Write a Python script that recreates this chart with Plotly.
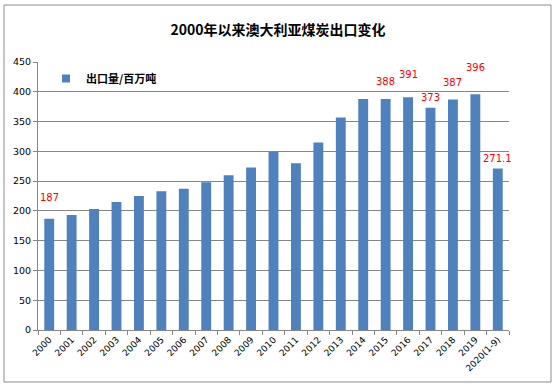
import plotly.graph_objects as go

years = ["2000", "2001", "2002", "2003", "2004", "2005", "2006", "2007", "2008", "2009",
         "2010", "2011", "2012", "2013", "2014", "2015", "2016", "2017", "2018", "2019", "2020(1-9)"]
exports = [187, 193, 203, 215, 225, 233, 237, 248, 260, 273,
           299, 280, 315, 357, 388, 388, 391, 373, 387, 396, 271.1]
labeled = ["2000", "2015", "2016", "2017", "2018", "2019", "2020(1-9)"]
label_shift = [21, 17, 23, 10, 17, 27, 10]
y_ticks = [0, 50, 100, 150, 200, 250, 300, 350, 400, 450]
series_name = "出口量/百万吨"
bar_color = "#4F81BD"

fig = go.Figure()
fig.add_trace(go.Bar(
    x=years, y=exports, name=series_name,
    marker=dict(color=bar_color, line=dict(width=0)),
    showlegend=False,
))
# legend entry with a small square symbol
fig.add_trace(go.Scatter(
    x=[None], y=[None], mode="markers", name=series_name,
    marker=dict(symbol="square", size=8, color=bar_color),
    showlegend=True, hoverinfo="skip",
))

for cat, sh in zip(labeled, label_shift):
    i = years.index(cat)
    v = exports[i]
    fig.add_annotation(
        x=i, y=v, text=f"{v:g}", showarrow=False, yshift=sh,
        font=dict(family="DejaVu Sans", size=10, color="#FF0000"),
    )

W, H = 556, 388
ml, mr, mt, mb = 38, 47, 62, 58
pw, ph = W - ml - mr, H - mt - mb

def px(x):
    return (x - ml) / pw

def py(y):
    return (H - mb - y) / ph

fig.add_shape(type="rect", xref="paper", yref="paper",
              x0=px(4), x1=px(551), y0=py(382), y1=py(5),
              line=dict(color="#8C8C8C", width=1), fillcolor="rgba(0,0,0,0)", layer="below")

fig.update_layout(
    width=W, height=H,
    margin=dict(l=ml, r=mr, t=mt, b=mb, autoexpand=False),
    paper_bgcolor="white", plot_bgcolor="white",
    title=dict(text="<b>2000年以来澳大利亚煤炭出口变化</b>", x=0.5, xref="container",
               y=1 - 30 / H, yref="container", yanchor="middle",
               font=dict(family="Noto Sans CJK SC", size=14, color="#000000")),
    bargap=0.56,
    legend=dict(x=px(46), y=py(64), xanchor="left", yanchor="top",
                font=dict(family="Noto Sans CJK SC", size=11, color="#000000", weight="bold"),
                bgcolor="rgba(0,0,0,0)", itemwidth=30, tracegroupgap=0),
    font=dict(family="DejaVu Sans", size=9, color="#000000"),
)
fig.update_xaxes(
    type="category", range=[-0.5, len(years) - 0.5], tickangle=-45, showgrid=False,
    showline=True, linecolor="#868686", linewidth=1, automargin=False,
    ticks="outside", ticklen=4, tickcolor="#868686", tickson="boundaries",
    tickfont=dict(family="DejaVu Sans", size=9, color="#000000"),
)
fig.update_yaxes(
    range=[0, 450], tickvals=y_ticks, showgrid=True, gridcolor="#868686", gridwidth=1,
    showline=True, linecolor="#868686", linewidth=1, automargin=False,
    ticks="outside", ticklen=4, tickcolor="#868686",
    tickfont=dict(family="DejaVu Sans", size=9.5, color="#000000"),
    zeroline=False,
)

fig.write_html("out.html", config={"displayModeBar": False},
               post_script="document.body.style.margin='0';")
